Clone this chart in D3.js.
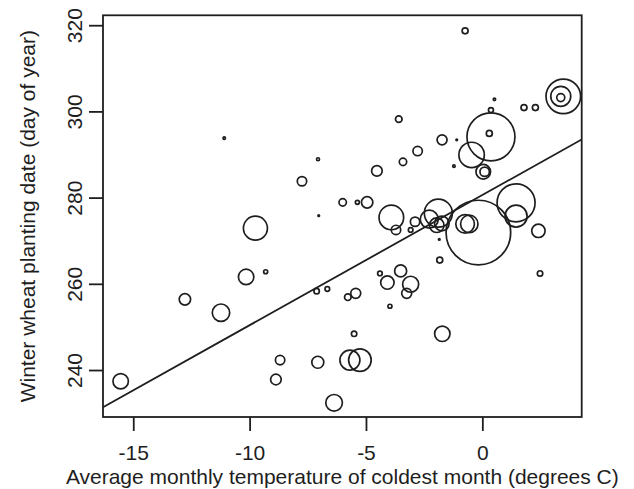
<!DOCTYPE html>
<html>
<head>
<meta charset="utf-8">
<script src="https://cdn.jsdelivr.net/npm/d3@7"></script>
<style>
  html, body { margin: 0; padding: 0; background: #fff; }
  svg { display: block; }
  text { font-family: "Liberation Sans", Arial, Helvetica, sans-serif; fill: #1e1e1e; }
</style>
</head>
<body>
<svg id="chart" width="634" height="489"></svg>
<script>
// Average monthly temperature of coldest month (degrees C)
const temps = [-11.09, -3.59, -1.73, -2.78, -0.74, 3.48, 3.37, 3.37, 0.52, 0.37,
  1.79, 2.28, 0.37, 0.30, -1.10, -0.46, 0.04, 0.10, -1.22, 1.45,
  1.45, -0.17, -0.74, -0.56, 2.41, 2.48, -3.41, -4.53, -7.06, -7.75,
  -6.00, -5.37, -4.95, -7.03, -3.91, -3.71, -3.08, -2.89, -2.28, -1.89,
  -1.96, -1.74, -1.85, -1.83, -4.40, -3.51, -4.08, -3.08, -3.25, -3.97,
  -7.12, -6.66, -5.78, -5.44, -5.51, -1.72, -8.69, -7.07, -5.69, -5.26,
  -8.87, -6.37, -10.15, -9.31, -12.78, -11.23, -15.54, -9.75];
// Winter wheat planting date (day of year)
const plantDates = [293.8, 298.2, 293.4, 290.8, 318.7, 303.5, 303.5, 303.2, 302.8, 300.3,
  300.9, 300.9, 294.1, 294.9, 293.4, 289.9, 286.0, 286.0, 287.3, 278.8,
  275.7, 271.9, 273.9, 273.9, 272.3, 262.4, 288.3, 286.2, 288.9, 283.8,
  278.9, 278.9, 278.9, 275.8, 275.4, 272.5, 272.5, 274.4, 275.0, 276.4,
  273.6, 274.0, 270.3, 265.5, 262.4, 263.0, 260.3, 259.9, 257.8, 254.8,
  258.3, 258.8, 256.9, 257.8, 248.4, 248.4, 242.3, 241.8, 242.3, 242.3,
  237.8, 232.4, 261.6, 262.8, 256.4, 253.3, 237.4, 272.9];
// relative circle size (symbol radius variable)
const weights = [1.2, 3.3, 5.0, 4.7, 3.0, 17.3, 10.0, 4.0, 1.2, 2.5,
  3.0, 3.0, 24.0, 3.0, 0.8, 12.7, 7.3, 4.7, 1.2, 19.0,
  11.0, 32.3, 9.3, 8.7, 6.7, 2.7, 3.7, 5.3, 1.5, 4.7,
  3.7, 2.0, 5.7, 0.8, 12.3, 4.7, 2.3, 4.7, 9.0, 14.0,
  7.3, 7.3, 0.8, 3.0, 2.3, 6.0, 6.7, 8.0, 5.0, 2.0,
  2.7, 2.3, 3.3, 5.0, 2.7, 7.7, 4.7, 6.0, 10.0, 11.3,
  5.3, 8.3, 7.7, 2.0, 5.7, 8.7, 7.7, 12.0];
const xTicks = [-15, -10, -5, 0];
const yTicks = [240, 260, 280, 300, 320];
// fitted regression line: intercept, slope
const fit = [280.6, 3.02];

const INK = "#1e1e1e";
const svg = d3.select("#chart");
const L = 103, R = 581.7, T = 15.3, B = 417;
const FS = 21;
const x = d3.scaleLinear().domain([-16.3, 4.27]).range([L, R]);
const y = d3.scaleLinear().domain([229.1, 322.3]).range([B, T]);
const r = d3.scaleLinear().domain([0, d3.max(weights)]).range([0, 32.3]);

svg.append("clipPath").attr("id", "clip")
  .append("rect").attr("x", L).attr("y", T).attr("width", R - L).attr("height", B - T);

const pts = temps.map((t, i) => ({ t, d: plantDates[i], w: weights[i] }));

svg.append("g").attr("clip-path", "url(#clip)")
  .selectAll("circle").data(pts).join("circle")
  .attr("cx", p => x(p.t)).attr("cy", p => y(p.d)).attr("r", p => r(p.w))
  .attr("fill", "none").attr("stroke", INK).attr("stroke-width", 1.7);

const xd = x.domain();
svg.append("line").attr("clip-path", "url(#clip)")
  .attr("x1", x(xd[0])).attr("y1", y(fit[0] + fit[1] * xd[0]))
  .attr("x2", x(xd[1])).attr("y2", y(fit[0] + fit[1] * xd[1]))
  .attr("stroke", INK).attr("stroke-width", 1.8);

svg.append("rect").attr("x", L).attr("y", T).attr("width", R - L).attr("height", B - T)
  .attr("fill", "none").attr("stroke", INK).attr("stroke-width", 1.8);

// x axis
const xa = svg.append("g").attr("transform", `translate(0,${B})`)
  .call(d3.axisBottom(x).tickValues(xTicks).tickSize(14).tickPadding(0).tickFormat(d3.format("d")));
xa.select(".domain").remove();
xa.selectAll(".tick line").attr("stroke", INK).attr("stroke-width", 1.8);
xa.selectAll(".tick text").attr("dy", null).attr("y", 43).attr("font-size", FS)
  .attr("font-family", '"Liberation Sans", Arial, sans-serif').attr("fill", INK)
  .text(d => String(d).replace("\u2212", "-"));

// y axis
const ya = svg.append("g").attr("transform", `translate(${L},0)`)
  .call(d3.axisLeft(y).tickValues(yTicks).tickSize(14).tickFormat(d3.format("d")));
ya.select(".domain").remove();
ya.selectAll(".tick line").attr("stroke", INK).attr("stroke-width", 1.8);
ya.selectAll(".tick text").attr("x", null).attr("dy", null)
  .attr("transform", "translate(-21,0) rotate(-90)")
  .attr("text-anchor", "middle").attr("font-size", FS)
  .attr("font-family", '"Liberation Sans", Arial, sans-serif').attr("fill", INK);

svg.append("text").attr("x", (L + R) / 2).attr("y", 484)
  .attr("text-anchor", "middle").attr("font-size", FS)
  .text("Average monthly temperature of coldest month (degrees C)");

svg.append("text").attr("transform", `translate(35,${(T + B) / 2}) rotate(-90)`)
  .attr("text-anchor", "middle").attr("font-size", FS)
  .text("Winter wheat planting date (day of year)");
</script>
</body>
</html>
